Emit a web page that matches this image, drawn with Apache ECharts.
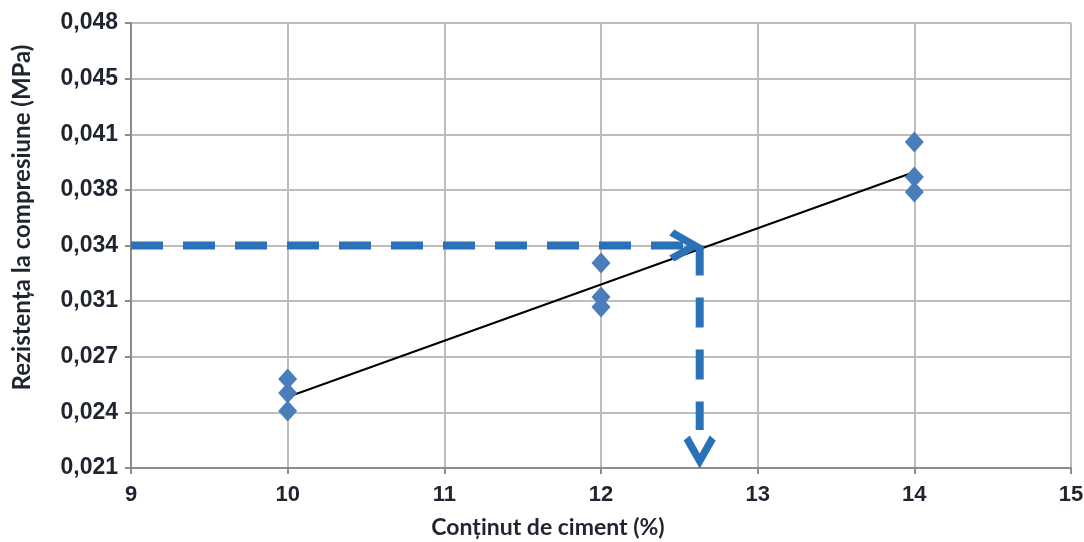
<!DOCTYPE html>
<html><head><meta charset="utf-8">
<script src="https://cdn.jsdelivr.net/npm/echarts@6/dist/echarts.min.js"></script>
<style>html,body{margin:0;padding:0;background:#fff}#c{width:1084px;height:542px}</style>
</head><body><div id="c"></div>
<script>
// Data
var xTicks = [9, 10, 11, 12, 13, 14, 15];
var yTickLabels = ['0,021','0,024','0,027','0,031','0,034','0,038','0,041','0,045','0,048'];
var yMin = 0.021, yMax = 0.048;
var pointsX = [10, 10, 10, 12, 12, 12, 14, 14, 14];
var pointsY = [0.0264, 0.02555, 0.02446, 0.03344, 0.03138, 0.03077, 0.04078, 0.03866, 0.03775];
var trendX = [10, 14];
var trendY = [0.02531, 0.03896];
var readX = [9, 12.63];               // horizontal guide: from axis to the trend line
var readY = [0.0345, 0.0233, 0.021];  // vertical guide: from trend line down (shaft end, arrow tip)

var yStep = (yMax - yMin) / (yTickLabels.length - 1);
var blue = '#2a72b8';
var txt = '#1f2430';
var chevRight = 'path://M6,0 L34,16 L6,32 L1,26 L19,16 L1,6 Z';
var chevDown = 'path://M0,6 L16,34 L32,6 L26,1 L16,19 L6,1 Z';

var chart = echarts.init(document.getElementById('c'), null, {renderer: 'canvas'});
chart.setOption({
  animation: false,
  grid: {left: 131, right: 13, top: 23, bottom: 74, containLabel: false, outerBoundsMode: 'none'},
  xAxis: {
    type: 'value', min: xTicks[0], max: xTicks[xTicks.length - 1], interval: 1,
    name: 'Conținut de ciment (%)', nameLocation: 'middle', nameGap: 48,
    nameTextStyle: {fontFamily: 'Lato', fontWeight: 'bold', fontSize: 23, color: txt, padding: [0, 106, 0, 0]},
    axisLine: {show: true, lineStyle: {color: '#8c8c8c', width: 2}},
    axisTick: {show: true, inside: false, length: 6, lineStyle: {color: '#8c8c8c', width: 2}},
    axisLabel: {margin: 16, fontFamily: 'Liberation Sans', fontWeight: 'bold', fontSize: 22, color: txt},
    splitLine: {show: true, lineStyle: {color: '#bdbdbd', width: 2}}
  },
  yAxis: {
    type: 'value', min: yMin, max: yMax, interval: yStep,
    name: 'Rezistența la compresiune (MPa)', nameLocation: 'middle', nameGap: 97, nameRotate: 90,
    nameTextStyle: {fontFamily: 'Lato', fontWeight: 'bold', fontSize: 24, color: txt, padding: [0, 0, 0, 56]},
    axisLine: {show: true, lineStyle: {color: '#8c8c8c', width: 2}},
    axisTick: {show: true, inside: false, length: 6, lineStyle: {color: '#8c8c8c', width: 2}},
    axisLabel: {
      margin: 13, fontFamily: 'Liberation Sans', fontWeight: 'bold', fontSize: 23, color: txt,
      formatter: function (v) { return yTickLabels[Math.round((v - yMin) / yStep)] || ''; }
    },
    splitLine: {show: true, lineStyle: {color: '#bdbdbd', width: 2}}
  },
  series: [
    {
      type: 'line', z: 3,
      data: trendX.map(function (x, i) { return [x, trendY[i]]; }),
      showSymbol: false, symbol: 'none',
      lineStyle: {color: '#000', width: 2}
    },
    {
      type: 'scatter', z: 4,
      data: pointsX.map(function (x, i) { return [x, pointsY[i]]; }),
      symbol: 'diamond', symbolSize: [19, 21],
      itemStyle: {color: '#4a7ebb', opacity: 1}
    },
    {
      type: 'line', z: 5,
      data: [[readX[0], readY[0]], [readX[1], readY[0]]],
      symbol: 'none',
      lineStyle: {color: blue, width: 8, type: [32, 20]}
    },
    {
      type: 'line', z: 5,
      data: [[readX[1], readY[0]], [readX[1], readY[1]]],
      symbol: 'none',
      lineStyle: {color: blue, width: 8, type: [30, 22]}
    },
    {
      type: 'scatter', z: 6,
      data: [
        {value: [readX[1], readY[0]], symbol: chevRight, symbolSize: [33, 32], symbolOffset: [-14, 0]},
        {value: [readX[1], readY[2]], symbol: chevDown, symbolSize: [32, 33], symbolOffset: [0, -16]}
      ],
      itemStyle: {color: blue, opacity: 1}
    }
  ]
});
</script>
</body></html>
